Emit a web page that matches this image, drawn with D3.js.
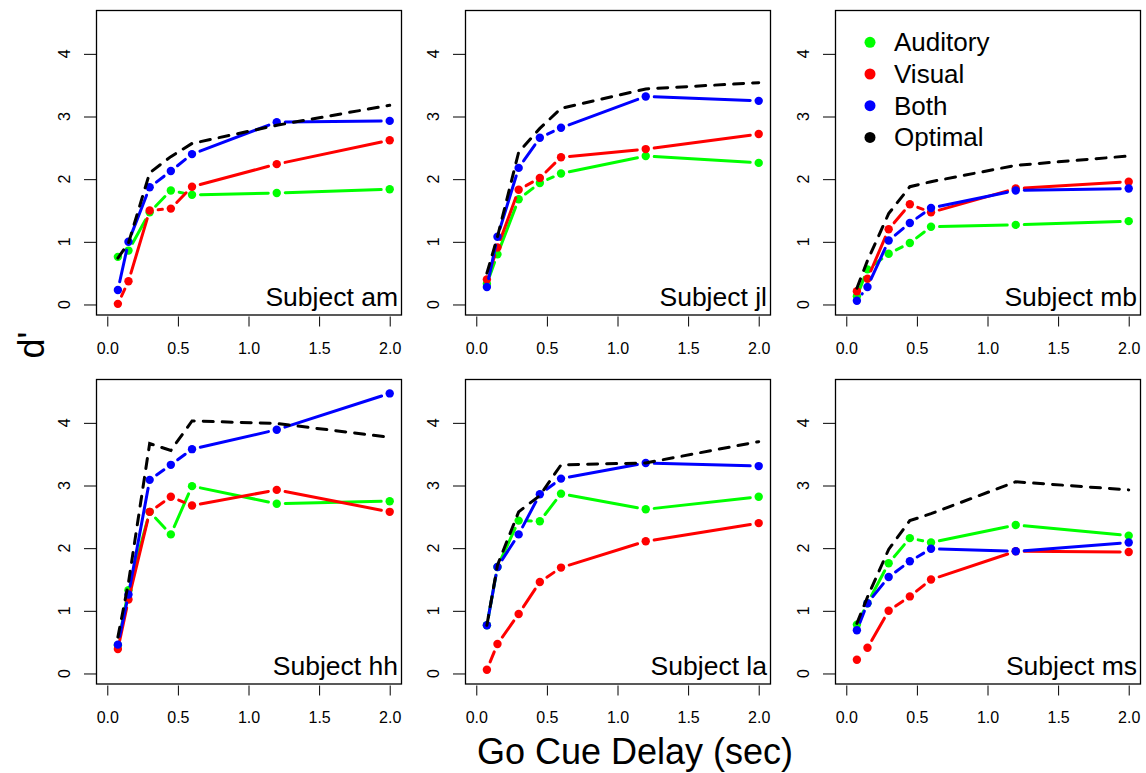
<!DOCTYPE html>
<html><head><meta charset="utf-8">
<script src="https://cdn.jsdelivr.net/npm/d3@7"></script>
<style>body{margin:0;background:#fff}svg{display:block}text{font-family:"Liberation Sans",Arial,sans-serif;fill:#000}</style>
</head><body><svg id="c" width="1146" height="773"></svg>
<script>
const delays = [0.075, 0.15, 0.3, 0.45, 0.6, 1.2, 2.0];
const subjects = ["am", "jl", "mb", "hh", "la", "ms"];
const seriesNames = ["Auditory", "Visual", "Both", "Optimal"];
const seriesColors = ["#00ff00", "#ff0000", "#0000ff", "#000000"];
const xTicks = [0, 0.5, 1.0, 1.5, 2.0];
const yTicks = [0, 1, 2, 3, 4];

const auditory = {
  am: [0.76, 0.86, 1.47, 1.82, 1.75, 1.78, 1.84],
  jl: [0.33, 0.80, 1.68, 1.94, 2.09, 2.37, 2.26],
  mb: [0.13, 0.56, 0.81, 0.98, 1.24, 1.27, 1.33],
  hh: [0.45, 1.33, 2.58, 2.22, 2.99, 2.71, 2.75],
  la: [0.77, 1.70, 2.44, 2.43, 2.87, 2.62, 2.82],
  ms: [0.78, 1.12, 1.76, 2.16, 2.09, 2.37, 2.20]
};
const visual = {
  am: [0.01, 0.37, 1.50, 1.53, 1.88, 2.24, 2.62],
  jl: [0.40, 0.91, 1.83, 2.02, 2.35, 2.48, 2.72],
  mb: [0.21, 0.41, 1.20, 1.60, 1.47, 1.85, 1.96],
  hh: [0.39, 1.18, 2.58, 2.82, 2.68, 2.93, 2.58],
  la: [0.06, 0.47, 0.95, 1.46, 1.69, 2.11, 2.40],
  ms: [0.22, 0.41, 1.00, 1.23, 1.50, 1.95, 1.94]
};
const both = {
  am: [0.23, 1.00, 1.87, 2.13, 2.40, 2.91, 2.93],
  jl: [0.28, 1.08, 2.18, 2.66, 2.82, 3.32, 3.25],
  mb: [0.06, 0.28, 1.02, 1.30, 1.54, 1.82, 1.85],
  hh: [0.46, 1.26, 3.09, 3.33, 3.58, 3.89, 4.47],
  la: [0.77, 1.70, 2.22, 2.86, 3.11, 3.36, 3.31],
  ms: [0.69, 1.12, 1.54, 1.79, 1.99, 1.95, 2.09]
};
const optimal = {
  am: [0.74, 0.98, 2.10, 2.36, 2.57, 2.86, 3.18],
  jl: [0.50, 1.08, 2.43, 2.81, 3.13, 3.44, 3.54],
  mb: [0.26, 0.70, 1.45, 1.88, 1.96, 2.22, 2.37],
  hh: [0.58, 1.45, 3.67, 3.56, 4.03, 3.99, 3.77],
  la: [0.77, 1.73, 2.58, 2.84, 3.33, 3.36, 3.70],
  ms: [0.80, 1.22, 1.98, 2.44, 2.55, 3.06, 2.93]
};
const seriesData = [auditory, visual, both, optimal];

const svg = d3.select("#c");
const colLeft = [96, 465, 835], pw = 305;
const rowTop = [10, 379], ph = 304.5;
const gap = 8.5;

subjects.forEach((s, i) => {
  const L = colLeft[i % 3], T = rowTop[Math.floor(i / 3)];
  const x = d3.scaleLinear().domain([-0.08, 2.08]).range([L, L + pw]);
  const y = d3.scaleLinear().domain([-0.16, 4.7]).range([T + ph, T]);
  const g = svg.append("g");
  // y axis
  const ya = g.append("g").attr("transform", `translate(${L},0)`)
    .call(d3.axisLeft(y).tickValues(yTicks).tickSize(12));
  ya.select(".domain").remove();
  ya.selectAll("line").attr("stroke", "#000");
  ya.selectAll("text").remove();
  ya.selectAll(".ylab").data(yTicks).join("text").attr("class", "ylab")
    .attr("font-size", 16).attr("text-anchor", "middle")
    .attr("transform", d => `translate(-26,${y(d)}) rotate(-90)`).text(d => d);
  // x axis
  const xa = g.append("g").attr("transform", `translate(0,${T + ph + 2})`)
    .call(d3.axisBottom(x).tickValues(xTicks).tickSize(10).tickPadding(16).tickFormat(d3.format(".1f")));
  xa.select(".domain").remove();
  xa.selectAll("line").attr("stroke", "#000");
  xa.selectAll("text").attr("font-size", 16).attr("fill", "#000").attr("font-family", "Liberation Sans, Arial, sans-serif");
  // series
  seriesData.forEach((sd, k) => {
    const vals = sd[s];
    const pts = delays.map((d, j) => [x(d), y(vals[j])]);
    if (k === 3) {
      g.append("path").attr("d", d3.line()(pts)).attr("fill", "none")
        .attr("stroke", "#000").attr("stroke-width", 3)
        .attr("stroke-dasharray", "10,9").attr("stroke-linecap", "round");
    } else {
      const segs = [];
      for (let j = 0; j < pts.length - 1; j++) {
        const [x1, y1] = pts[j], [x2, y2] = pts[j + 1];
        const len = Math.hypot(x2 - x1, y2 - y1);
        if (len > 2 * gap) {
          const ux = (x2 - x1) / len, uy = (y2 - y1) / len;
          segs.push([x1 + ux * gap, y1 + uy * gap, x2 - ux * gap, y2 - uy * gap]);
        }
      }
      g.selectAll(null).data(segs).join("line")
        .attr("x1", d => d[0]).attr("y1", d => d[1]).attr("x2", d => d[2]).attr("y2", d => d[3])
        .attr("stroke", seriesColors[k]).attr("stroke-width", 3).attr("stroke-linecap", "round");
      g.selectAll(null).data(pts).join("circle")
        .attr("cx", d => d[0]).attr("cy", d => d[1]).attr("r", 4.2).attr("fill", seriesColors[k]);
    }
  });
  // box
  g.append("rect").attr("x", L + 0.5).attr("y", T + 0.5).attr("width", pw).attr("height", ph)
    .attr("fill", "none").attr("stroke", "#000").attr("stroke-width", 1.3);
  g.append("text").attr("x", L + pw - 3).attr("y", T + ph - 9).attr("text-anchor", "end")
    .attr("font-size", 26.5).text("Subject " + s);
});

// legend
const lg = svg.append("g");
seriesNames.forEach((n, k) => {
  const yy = 42.3 + k * 31.7;
  lg.append("circle").attr("cx", 870).attr("cy", yy).attr("r", 5.5).attr("fill", seriesColors[k]);
  lg.append("text").attr("x", 894).attr("y", yy + 9).attr("font-size", 26).text(n);
});

svg.append("text").attr("x", 635).attr("y", 764).attr("text-anchor", "middle")
  .attr("font-size", 36).text("Go Cue Delay (sec)");
svg.append("text").attr("transform", "translate(44,345) rotate(-90)").attr("text-anchor", "middle")
  .attr("font-size", 36).text("d'");
</script></body></html>
